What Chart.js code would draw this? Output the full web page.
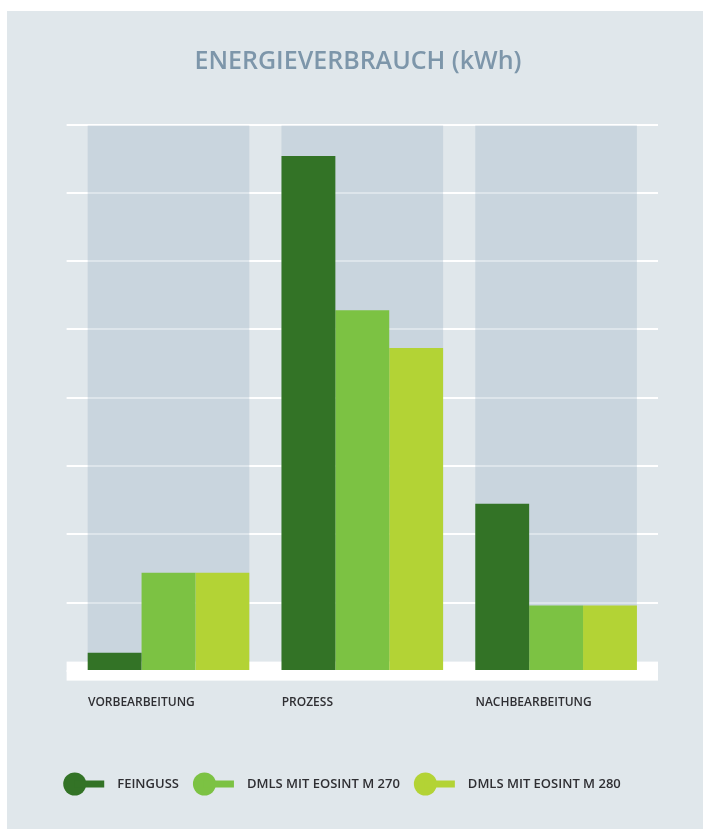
<!DOCTYPE html>
<html>
<head>
<meta charset="utf-8">
<script src="https://cdn.jsdelivr.net/npm/chart.js@4.4.1/dist/chart.umd.min.js"></script>
<style>
  html, body { margin: 0; padding: 0; background: #ffffff; }
  #panel { position: absolute; left: 7px; top: 11px; width: 696px; height: 818px; background: #e0e7eb; }
  #c { position: absolute; left: 0; top: 0; }
</style>
</head>
<body>
<div id="panel"></div>
<canvas id="c" width="703" height="829"></canvas>
<script>
// ---- data ----
const categories = ['VORBEARBEITUNG', 'PROZESS', 'NACHBEARBEITUNG'];
const seriesNames = ['FEINGUSS', 'DMLS MIT EOSINT M 270', 'DMLS MIT EOSINT M 280'];
const feinguss = [2.7, 75.4, 24.5];
const dmls270 = [14.4, 52.8, 9.6];
const dmls280 = [14.4, 47.3, 9.6];
const yTicks = [0, 10, 20, 30, 40, 50, 60, 70, 80];

const colors = ['#337326', '#7cc243', '#b3d335'];
const FONT = "'Open Sans', 'Noto Sans', sans-serif";

// gray column behind each category group + white base band at zero
const columnPlugin = {
  id: 'columns',
  beforeDatasetsDraw(chart) {
    const ctx = chart.ctx;
    const first = chart.getDatasetMeta(0).data;
    const last = chart.getDatasetMeta(chart.data.datasets.length - 1).data;
    const y = chart.scales.y;
    const area = chart.chartArea;
    const zero = y.getPixelForValue(0);
    const top = area.top + 1;
    const bottom = zero - 9.5;
    ctx.save();
    ctx.fillStyle = 'rgba(159,183,198,0.355)';
    for (let i = 0; i < first.length; i++) {
      const l = first[i].x - first[i].width / 2;
      const r = last[i].x + last[i].width / 2;
      ctx.fillRect(l, top, r - l, bottom - top);
    }
    ctx.fillStyle = '#ffffff';
    ctx.fillRect(area.left - 5, zero - 9.5, area.right - area.left + 10, 19);
    ctx.restore();
  }
};

// lollipop-style legend
const legendPlugin = {
  id: 'lolliLegend',
  afterDraw(chart) {
    const ctx = chart.ctx;
    const yc = 784;
    const gap = 14;
    ctx.save();
    ctx.font = "600 13px " + FONT;
    const widths = chart.data.datasets.map(d => ctx.measureText(d.label).width);
    const itemW = widths.map(w => 54 + w);
    const total = itemW.reduce((a, b) => a + b, 0) + gap * (itemW.length - 1);
    let x = 342 - total / 2;
    chart.data.datasets.forEach((d, i) => {
      ctx.fillStyle = d.backgroundColor;
      ctx.beginPath();
      ctx.arc(x + 11.5, yc, 11.5, 0, Math.PI * 2);
      ctx.fill();
      ctx.fillRect(x + 11, yc - 3.5, 30, 7);
      ctx.fillStyle = '#2f2f33';
      ctx.textBaseline = 'middle';
      ctx.textAlign = 'left';
      ctx.fillText(d.label, x + 54, yc + 0.5);
      x += itemW[i] + gap;
    });
    ctx.restore();
  }
};

new Chart(document.getElementById('c'), {
  type: 'bar',
  data: {
    labels: categories,
    datasets: [
      { label: seriesNames[0], data: feinguss, backgroundColor: colors[0] },
      { label: seriesNames[1], data: dmls270, backgroundColor: colors[1] },
      { label: seriesNames[2], data: dmls280, backgroundColor: colors[2] }
    ]
  },
  options: {
    responsive: false,
    animation: false,
    events: [],
    layout: { padding: { left: 58, right: 45, top: 0, bottom: 102.5 } },
    datasets: { bar: { categoryPercentage: 0.834, barPercentage: 1, borderWidth: 0, clip: false } },
    plugins: {
      legend: { display: false },
      tooltip: { enabled: false },
      title: {
        display: true,
        text: 'ENERGIEVERBRAUCH (kWh)',
        color: '#7d96aa',
        font: { family: FONT, size: 25, weight: '600' },
        padding: { top: 46.5, bottom: 48 }
      }
    },
    scales: {
      x: {
        grid: { display: false },
        border: { display: false },
        ticks: {
          align: 'start',
          labelOffset: -80.6,
          padding: 16.5,
          maxRotation: 0,
          autoSkip: false,
          color: '#2f2f33',
          font: { family: FONT, size: 12, weight: '600' }
        }
      },
      y: {
        min: 0, max: 80,
        afterBuildTicks: (s) => { s.ticks = yTicks.map(v => ({ value: v })); },
        afterFit: (s) => { s.width = 13.6; },
        border: { display: false },
        ticks: { display: false },
        grid: { color: '#ffffff', lineWidth: 2, drawTicks: true, tickLength: 5 }
      },
      y2: {
        position: 'right',
        min: 0, max: 80,
        afterBuildTicks: (s) => { s.ticks = yTicks.map(v => ({ value: v })); },
        border: { display: false },
        ticks: { display: false },
        grid: { color: '#ffffff', lineWidth: 2, drawOnChartArea: false, drawTicks: true, tickLength: 5 }
      }
    }
  },
  plugins: [columnPlugin, legendPlugin]
});
</script>
</body>
</html>
